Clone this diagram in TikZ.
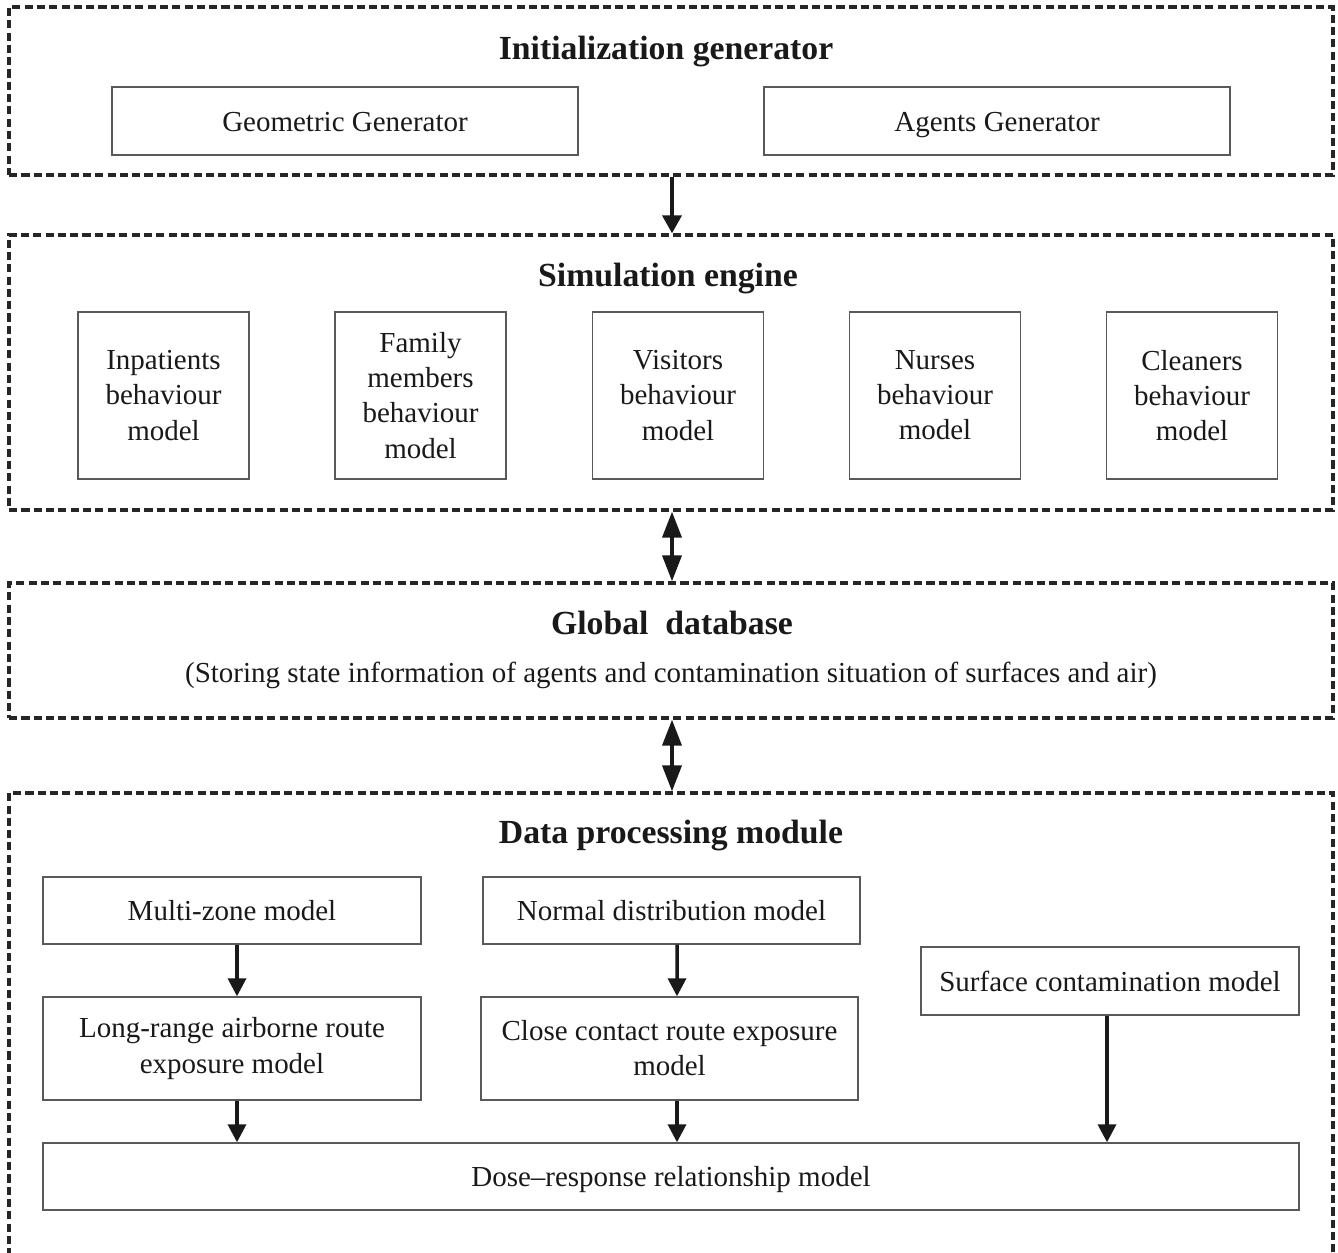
\documentclass[tikz,border=0pt]{standalone}
\usepackage{fontspec}
\setmainfont{Liberation Serif}
\usepackage{tikz}
\usetikzlibrary{arrows.meta}
\usetikzlibrary{calc}

\begin{document}
\begin{tikzpicture}[x=0.02cm,y=-0.02cm,
    every node/.style={font=\fontsize{16.5}{20}\selectfont,text=black!90},
    group/.style={draw=black!85,line width=1.9pt,dash pattern=on 4.6pt off 2.4pt,minimum width=26.48cm,inner sep=0pt},
    title/.style={font=\fontsize{19.2}{23}\selectfont\bfseries,execute at begin node=\strut},
    block/.style={draw=black!65,line width=0.8pt,align=center,inner sep=2pt},
    oneline/.style={execute at begin node={\rule{0pt}{17.4pt}},execute at end node={\rule[-6pt]{0pt}{6pt}}},
    bigarrow/.style={line width=2.1pt,draw=black!90,-{Triangle[length=0.36cm,width=0.38cm]}},
    bigdouble/.style={line width=2.1pt,draw=black!90,{Triangle[length=0.52cm,width=0.38cm]}-{Triangle[length=0.52cm,width=0.38cm]}},
    smallarrow/.style={line width=2pt,draw=black!90,-{Triangle[length=0.36cm,width=0.36cm]}}]
      \useasboundingbox (0,0) rectangle (1338,1253);
      %%% the four groups
      % centres at x=671, heights follow the picture
      \node[group,minimum height=3.36cm] (init) at (671,91) {};
      \node[group,minimum height=5.5cm] (sim) at (671,372.5) {};
      \node[group,minimum height=2.7cm] (db) at (671,650.5) {};
      \node[group,minimum height=9.28cm] (dp) at (671,1025) {};
      %% titles
      \node[title] (inittitle) at (666,51) {Initialization generator};
      \node[title] (simtitle) at (668,278) {Simulation engine};
      \node[title] (dbtitle) at (672,626) {Global~ database};
      \node[execute at begin node=\strut] (dbnote) at (671,675) {(Storing state information of agents and contamination situation of surfaces and air)};
      \node[title] (dptitle) at (671,835) {Data processing module};
      %%% initialization
      \node[block,oneline,minimum width=9.32cm,minimum height=1.36cm] (geo) at (345,121) {Geometric Generator};
      \node[block,oneline,minimum width=9.32cm,minimum height=1.36cm] (agents) at (997,121) {Agents Generator};
      %%% behaviour models
      \foreach \n/\x/\t in {inp/163.5/{Inpatients\\behaviour\\model},
                            fam/420.5/{Family\\members\\behaviour\\model},
                            vis/678/{Visitors\\behaviour\\model},
                            nur/935/{Nurses\\behaviour\\model},
                            cle/1192/{Cleaners\\behaviour\\model}}
      {
        \node[block,minimum width=3.42cm,minimum height=3.34cm] (\n) at (\x,395.5) {\t};
      }
      %%% data processing
      \node[block,oneline,minimum width=7.56cm,minimum height=1.34cm] (multi) at (232,910.5) {Multi-zone model};
      \node[block,oneline,minimum width=7.54cm,minimum height=1.34cm] (normal) at (671.5,910.5) {Normal distribution model};
      \node[block,minimum width=7.56cm,minimum height=2.06cm] (long) at (232,1048.5) {Long-range airborne route\\exposure model};
      \node[block,minimum width=7.54cm,minimum height=2.06cm] (close) at (669.5,1048.5) {Close contact route exposure\\model};
      \node[block,oneline,minimum width=7.56cm,minimum height=1.36cm] (surface) at (1110,981) {Surface contamination model};
      \node[block,oneline,minimum width=25.12cm,minimum height=1.34cm] (dose) at (671,1176.5) {Dose--response relationship model};
      %%% arrows between groups
      \draw[bigarrow] ([xshift=0.02cm]init.south) -- ([xshift=0.02cm]sim.north);
      \draw[bigdouble] ([xshift=0.02cm]sim.south) -- ([xshift=0.02cm]db.north);
      \draw[bigdouble] ([xshift=0.02cm]db.south) -- ([xshift=0.02cm]dp.north);
      %%% arrows inside the module
      \draw[smallarrow] ([xshift=0.1cm]multi.south) -- ([xshift=0.1cm]long.north);
      \draw[smallarrow] ([xshift=0.11cm]normal.south) -- ([xshift=0.15cm]close.north);
      \draw[smallarrow] ([xshift=0.1cm]long.south) -- ([xshift=0.1cm]long.south |- dose.north);
      \draw[smallarrow] ([xshift=0.15cm]close.south) -- ([xshift=0.15cm]close.south |- dose.north);
      \draw[smallarrow] ([xshift=-0.06cm]surface.south) -- ([xshift=-0.06cm]surface.south |- dose.north);
\end{tikzpicture}
\end{document}
